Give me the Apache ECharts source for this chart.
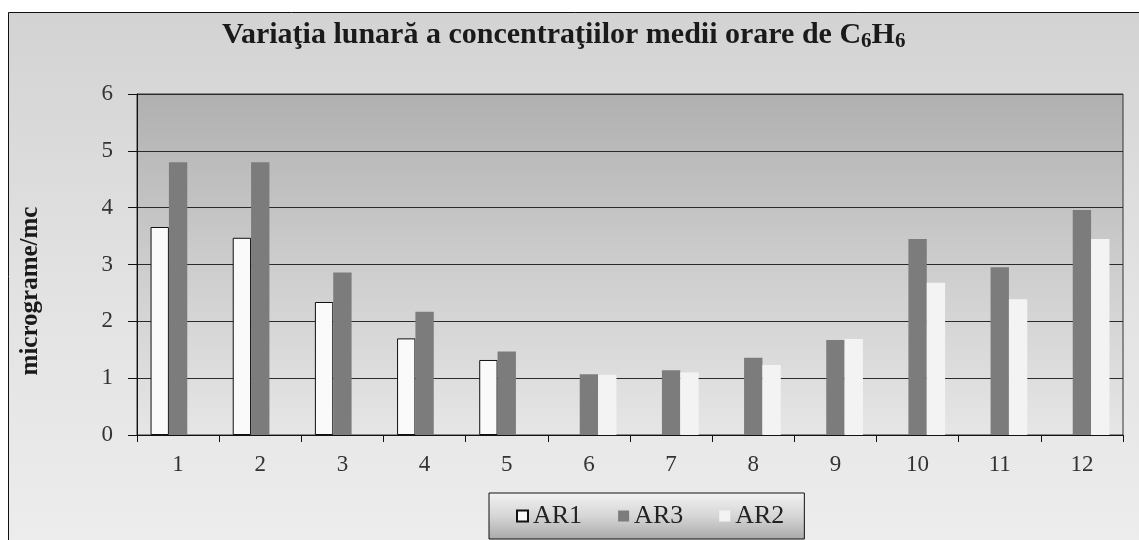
<!DOCTYPE html>
<html>
<head>
<meta charset="utf-8">
<script src="https://cdn.jsdelivr.net/npm/echarts@6/dist/echarts.min.js"></script>
<style>
html,body{margin:0;padding:0;background:#fff;}
#c{width:1139px;height:540px;}
</style>
</head>
<body>
<div id="c"></div>
<script>
const months = ['1','2','3','4','5','6','7','8','9','10','11','12'];
const seriesNames = ['AR1','AR3','AR2'];
const ar1 = [3.66, 3.47, 2.34, 1.70, 1.32, null, null, null, null, null, null, null];
const ar3 = [4.80, 4.80, 2.86, 2.17, 1.47, 1.07, 1.14, 1.36, 1.67, 3.45, 2.95, 3.96];
const ar2 = [null, null, null, null, null, 1.06, 1.10, 1.23, 1.69, 2.68, 2.39, 3.45];
const yMin = 0, yMax = 6, yStep = 1;

const serif = "'Liberation Serif', 'DejaVu Serif', serif";
const chart = echarts.init(document.getElementById('c'), null, {renderer: 'canvas'});

function lin(stops) {
  return {type: 'linear', x: 0, y: 0, x2: 0, y2: 1,
    colorStops: stops.map((c, i) => ({offset: i / (stops.length - 1), color: c}))};
}

chart.setOption({
  backgroundColor: '#ffffff',
  animation: false,
  graphic: [
    {type: 'rect', z: -10, shape: {x: 8.5, y: 12.5, width: 1140, height: 540},
     style: {fill: lin(['#d3d3d3', '#e2e2e2', '#ededed']), stroke: '#111', lineWidth: 1}},
    {type: 'text', z: 10, x: 31, y: 291, rotation: Math.PI / 2,
     style: {text: 'micrograme/mc', font: 'bold 25px ' + serif, fill: '#1a1a1a',
             textAlign: 'center', textVerticalAlign: 'middle'}}
  ],
  title: {
    text: 'Variaţia lunară a concentraţiilor medii orare de C{s|6}H{s|6}',
    left: 217, top: 13,
    padding: 5,
    textStyle: {
      fontFamily: serif, fontWeight: 'bold', fontSize: 30, color: '#1a1a1a',
      rich: {s: {fontFamily: serif, fontWeight: 'bold', fontSize: 21, color: '#1a1a1a',
                 verticalAlign: 'bottom', padding: [13, 0, 0, 0]}}
    }
  },
  legend: {
    data: seriesNames,
    left: 489, top: 493,
    padding: [10, 20, 10, 27],
    itemGap: 36,
    itemWidth: 11, itemHeight: 11,
    icon: 'rect',
    borderColor: '#111', borderWidth: 1,
    backgroundColor: lin(['#f2f2f2', '#d6d6d6', '#a9a9a9']),
    textStyle: {fontFamily: serif, fontSize: 26, color: '#222'}
  },
  grid: {
    left: 137, right: 16, top: 94, bottom: 105,
    show: true,
    backgroundColor: lin(['#b0b0b0', '#cdcdcd', '#e6e6e6']),
    borderColor: '#333', borderWidth: 1
  },
  xAxis: {
    type: 'category', data: months, boundaryGap: true,
    axisLine: {show: true, lineStyle: {color: '#111', width: 1}},
    axisTick: {show: true, alignWithLabel: false, length: 7, lineStyle: {color: '#111'}},
    axisLabel: {fontFamily: serif, fontSize: 23, color: '#333', margin: 18},
    splitLine: {show: false}
  },
  yAxis: {
    type: 'value', min: yMin, max: yMax, interval: yStep,
    axisLine: {show: true, lineStyle: {color: '#111', width: 1}},
    axisTick: {show: true, length: 9, lineStyle: {color: '#111'}},
    axisLabel: {fontFamily: serif, fontSize: 23, color: '#333', margin: 24},
    splitLine: {show: true, lineStyle: {color: '#2a2a2a', width: 1}}
  },
  series: [
    {name: 'AR1', type: 'bar', data: ar1, barGap: '0%', barCategoryGap: '33%',
     itemStyle: {color: '#fafafa', borderColor: '#111', borderWidth: 1}},
    {name: 'AR3', type: 'bar', data: ar3, barGap: '0%', barCategoryGap: '33%',
     itemStyle: {color: '#7c7c7c'}},
    {name: 'AR2', type: 'bar', data: ar2, barGap: '0%', barCategoryGap: '33%',
     itemStyle: {color: '#f3f3f3'}}
  ]
});
</script>
</body>
</html>
